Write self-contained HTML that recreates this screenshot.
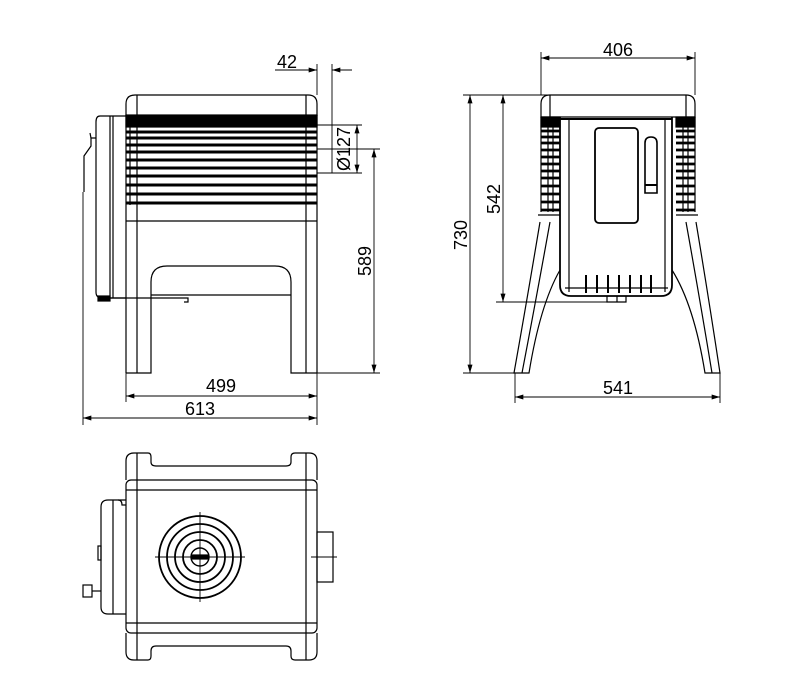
<!DOCTYPE html>
<html><head><meta charset="utf-8"><style>body{margin:0;background:#fff}svg{display:block}</style></head><body>
<svg width="800" height="700" viewBox="0 0 800 700" xmlns="http://www.w3.org/2000/svg" font-family="Liberation Sans, sans-serif" font-size="18">
<defs>
<marker id="a" viewBox="0 0 10 6" refX="10" refY="3" markerWidth="10" markerHeight="5" orient="auto-start-reverse" markerUnits="userSpaceOnUse"><path d="M0,0L10,3L0,6z" fill="#000"/></marker>
</defs>
<g fill="none" stroke="#000" stroke-width="1.2">
<!-- SIDE VIEW -->
<path d="M126,116 V104 Q126,95 135,95 H308 Q317,95 317,104 V116"/>
<line x1="137" y1="95" x2="137" y2="373"/><line x1="306" y1="95" x2="306" y2="373"/>
<rect x="126" y="115" width="191" height="12" fill="#000"/>
<g stroke-width="3">
<line x1="126" y1="132" x2="317" y2="132"/><line x1="126" y1="138" x2="317" y2="138"/>
<line x1="126" y1="145" x2="317" y2="145"/><line x1="126" y1="152" x2="317" y2="152"/>
<line x1="126" y1="160" x2="317" y2="160"/><line x1="126" y1="168" x2="317" y2="168"/>
<line x1="126" y1="176" x2="317" y2="176"/><line x1="126" y1="185" x2="317" y2="185"/>
<line x1="126" y1="194" x2="317" y2="194"/><line x1="126" y1="203" x2="317" y2="203"/>
</g>
<line x1="126" y1="115" x2="126" y2="373"/><line x1="317" y1="115" x2="317" y2="373"/>
<line x1="126" y1="221" x2="317" y2="221"/>
<line x1="130" y1="115" x2="130" y2="205"/>
<path d="M126,373 H151 V282 Q151,266 167,266 H275 Q291,266 291,282 V373 H317"/>
<line x1="151" y1="295" x2="291" y2="295"/>
<path d="M126,116 H100 Q96,116 96,122 V292 Q96,298 102,298 H126"/>
<line x1="110" y1="116" x2="110" y2="298"/><line x1="113" y1="116" x2="113" y2="298"/>
<path d="M96,138 H91 V146 L84,156 V192"/><path d="M91,138 L90,133"/>
<rect x="98" y="296" width="12" height="5" fill="#000"/>
<path d="M110,298 H188 V302 H184"/>
<!-- side dims -->
<g stroke-width="0.9">
<line x1="275" y1="70" x2="317" y2="70" marker-end="url(#a)"/>
<line x1="352" y1="70" x2="332" y2="70" marker-end="url(#a)"/>
<line x1="317" y1="64" x2="317" y2="95"/><line x1="332" y1="64" x2="332" y2="173"/>
<line x1="317" y1="125" x2="362" y2="125"/><line x1="317" y1="173" x2="362" y2="173"/>
<line x1="357" y1="125" x2="357" y2="173" marker-start="url(#a)" marker-end="url(#a)"/>
<line x1="317" y1="149" x2="380" y2="149"/><line x1="317" y1="373" x2="380" y2="373"/>
<line x1="374" y1="149" x2="374" y2="373" marker-start="url(#a)" marker-end="url(#a)"/>
<line x1="126" y1="373" x2="126" y2="402"/>
<line x1="126" y1="396" x2="317" y2="396" marker-start="url(#a)" marker-end="url(#a)"/>
<line x1="83" y1="192" x2="83" y2="425"/><line x1="317" y1="373" x2="317" y2="425"/>
<line x1="83" y1="418" x2="317" y2="418" marker-start="url(#a)" marker-end="url(#a)"/>
</g>
<!-- FRONT VIEW -->
<path d="M541,117 V104 Q541,95 550,95 H686 Q695,95 695,104 V117 Z"/>
<line x1="550" y1="95" x2="550" y2="117"/><line x1="686" y1="95" x2="686" y2="117"/>
<rect x="541" y="117" width="19" height="10" fill="#000"/><rect x="676" y="117" width="19" height="10" fill="#000"/>
<g stroke-width="2.8">
<path d="M541,131H560M541,137H560M541,143H560M541,150H560M541,157H560M541,164H560M541,171H560M541,178H560M541,186H560M541,194H560M541,202H560M541,210H560"/>
<path d="M676,131H695M676,137H695M676,143H695M676,150H695M676,157H695M676,164H695M676,171H695M676,178H695M676,186H695M676,194H695M676,202H695M676,210H695"/>
</g>
<line x1="541" y1="117" x2="541" y2="212"/><line x1="695" y1="117" x2="695" y2="212"/>
<line x1="548" y1="117" x2="548" y2="212"/><line x1="553" y1="117" x2="553" y2="212"/>
<line x1="683" y1="117" x2="683" y2="212"/><line x1="688" y1="117" x2="688" y2="212"/>
<path d="M560,117 V285 Q560,296 571,296 H661 Q672,296 672,285 V117" stroke-width="1.8"/>
<line x1="560" y1="119" x2="672" y2="119" stroke-width="2"/>
<line x1="569" y1="119" x2="569" y2="292"/><line x1="665" y1="119" x2="665" y2="292"/>
<line x1="565" y1="288" x2="668" y2="288"/>
<rect x="595" y="128" width="43" height="95" rx="4" stroke-width="1.8"/>
<path d="M645,193 V143 Q645,137 651,137 Q657,137 657,143 V193 Z" stroke-width="1.6"/>
<line x1="645" y1="185" x2="657" y2="185" stroke-width="2"/>
<g stroke-width="2"><path d="M586,275V293M597,275V293M608,275V293M619,275V293M630,275V293M641,275V293M651,275V293"/></g>
<path d="M607,296 V302 H626 V296"/><line x1="617" y1="296" x2="617" y2="302"/>
<path d="M540,222 Q527,300 514,373 H529 Q540,305 560,270"/>
<path d="M550,222 Q536,300 522,373"/>
<path d="M696,222 Q709,300 720,373 H705 Q694,305 672,270"/>
<path d="M686,222 Q700,300 712,373"/>
<line x1="538" y1="215" x2="560" y2="215"/><line x1="676" y1="215" x2="698" y2="215"/>
<!-- front dims -->
<g stroke-width="0.9">
<line x1="541" y1="52" x2="541" y2="95"/><line x1="695" y1="52" x2="695" y2="95"/>
<line x1="541" y1="58" x2="695" y2="58" marker-start="url(#a)" marker-end="url(#a)"/>
<line x1="463" y1="95" x2="550" y2="95"/><line x1="463" y1="373" x2="516" y2="373"/>
<line x1="470" y1="95" x2="470" y2="373" marker-start="url(#a)" marker-end="url(#a)"/>
<line x1="496" y1="302" x2="617" y2="302"/>
<line x1="503" y1="95" x2="503" y2="302" marker-start="url(#a)" marker-end="url(#a)"/>
<line x1="515" y1="373" x2="515" y2="403"/><line x1="720" y1="373" x2="720" y2="403"/>
<line x1="515" y1="397" x2="720" y2="397" marker-start="url(#a)" marker-end="url(#a)"/>
</g>
<!-- TOP VIEW -->
<path d="M126,480 V461 Q126,453 134,453 H148 Q151,453 151,457 V462 Q151,466 156,466 H286 Q291,466 291,462 V457 Q291,453 295,453 H309 Q317,453 317,461 V480"/>
<path d="M126,633 V652 Q126,660 134,660 H148 Q151,660 151,656 V651 Q151,646 156,646 H286 Q291,646 291,651 V656 Q291,660 295,660 H309 Q317,660 317,652 V633"/>
<rect x="126" y="480" width="191" height="153" rx="5"/>
<line x1="126" y1="490" x2="317" y2="490"/><line x1="126" y1="623" x2="317" y2="623"/>
<line x1="137" y1="453" x2="137" y2="660"/><line x1="306" y1="453" x2="306" y2="660"/>
<circle cx="200" cy="557" r="41" stroke-width="1.8"/>
<circle cx="200" cy="557" r="33" stroke-width="1.8"/>
<circle cx="200" cy="557" r="25" stroke-width="1.8"/>
<circle cx="200" cy="557" r="17" stroke-width="1.8"/>
<circle cx="200" cy="557" r="9" stroke-width="1.4"/>
<rect x="192" y="555" width="16" height="4" fill="#000"/>
<line x1="155" y1="557" x2="245" y2="557" stroke-width="0.9"/><line x1="200" y1="512" x2="200" y2="602" stroke-width="0.9"/>
<rect x="317" y="532" width="16" height="50"/>
<line x1="311" y1="557" x2="337" y2="557" stroke-width="0.9"/>
<path d="M126,500 H108 Q101,500 101,507 V607 Q101,614 108,614 H126"/>
<line x1="113" y1="500" x2="113" y2="614"/><path d="M118,500 Q122,500 122,505 H126"/>
<rect x="98" y="546" width="3" height="14"/>
<rect x="83" y="585" width="9" height="12"/><line x1="92" y1="591" x2="101" y2="591"/>
</g>
<g fill="#000" stroke="none">
<text x="287" y="68" text-anchor="middle">42</text>
<text transform="translate(350,149) rotate(-90)" text-anchor="middle">Ø127</text>
<text transform="translate(371,261) rotate(-90)" text-anchor="middle">589</text>
<text x="221" y="392" text-anchor="middle">499</text>
<text x="200" y="415" text-anchor="middle">613</text>
<text x="618" y="56" text-anchor="middle">406</text>
<text transform="translate(467,235) rotate(-90)" text-anchor="middle">730</text>
<text transform="translate(500,199) rotate(-90)" text-anchor="middle">542</text>
<text x="618" y="394" text-anchor="middle">541</text>
</g>
</svg>
</body></html>
